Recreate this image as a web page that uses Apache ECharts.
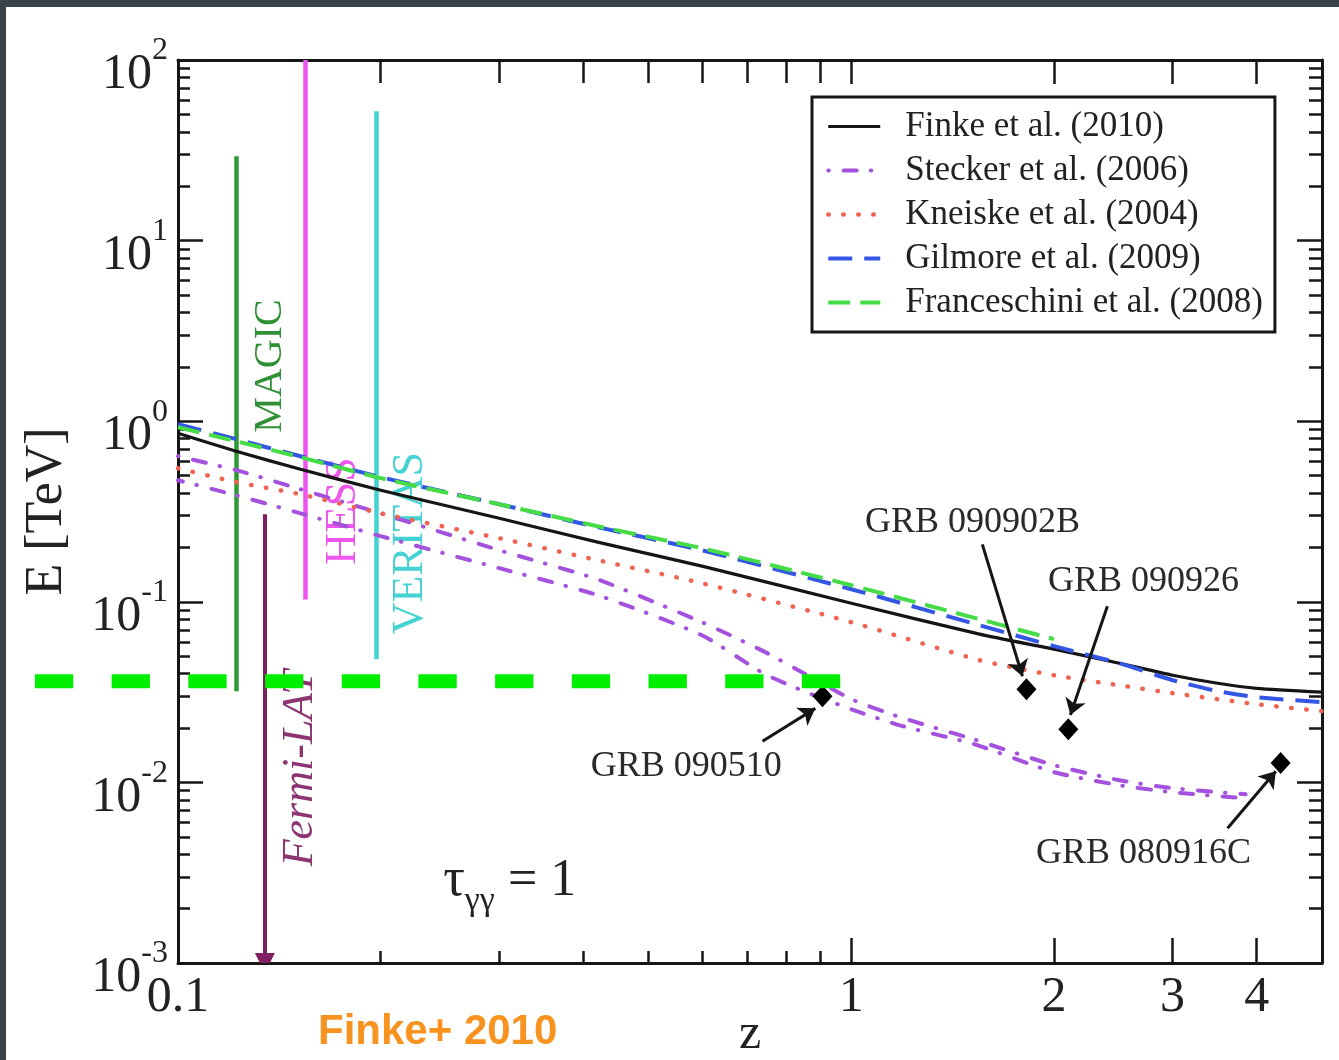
<!DOCTYPE html>
<html>
<head>
<meta charset="utf-8">
<script src="https://cdn.jsdelivr.net/npm/echarts@6/dist/echarts.min.js"></script>
<style>
  html, body { margin: 0; padding: 0; background: #ffffff; }
  #chart { width: 1339px; height: 1060px; }
</style>
</head>
<body>
<div id="chart"></div>
<script>
// ---- gamma-ray horizon: E(z) where tau_gg = 1, for several EBL models ----

// Finke et al. (2010)
const finkeZ = [0.1, 0.122, 0.152, 0.2, 0.3, 0.42, 0.6, 1.0, 1.55, 2.0, 2.5, 3.0, 3.5, 4.0, 5.0];
const finkeE = [0.858, 0.682, 0.542, 0.415, 0.290, 0.214, 0.1575, 0.0982, 0.0662, 0.0546, 0.0457, 0.0392, 0.0354, 0.0332, 0.0316];

// Stecker et al. (2006): baseline and fast-evolution models
const steckerZ = [0.1, 0.122, 0.152, 0.2, 0.3, 0.42, 0.6, 0.74, 0.85, 1.0, 1.18, 1.52, 2.0, 2.5, 3.0, 3.85];
const steckerHiE = [0.640, 0.536, 0.420, 0.309, 0.193, 0.133, 0.0771, 0.0533, 0.0402, 0.0289, 0.0230, 0.0173, 0.01245, 0.01028, 0.00929, 0.0086];
const steckerLoE = [0.471, 0.389, 0.309, 0.231, 0.1535, 0.1088, 0.0653, 0.0402, 0.0320, 0.0254, 0.0207, 0.0163, 0.01139, 0.00965, 0.00882, 0.00818];

// Kneiske et al. (2004)
const kneiskeZ = [0.1, 0.122, 0.152, 0.2, 0.3, 0.42, 0.6, 1.0, 1.55, 2.0, 2.5, 3.0, 4.0, 5.0];
const kneiskeE = [0.549, 0.460, 0.394, 0.309, 0.225, 0.170, 0.1268, 0.0771, 0.0475, 0.0392, 0.0345, 0.0312, 0.0271, 0.0248];

// Gilmore et al. (2009)
const gilmoreZ = [0.1, 0.122, 0.152, 0.2, 0.3, 0.42, 0.6, 1.0, 1.55, 2.0, 2.5, 3.0, 3.5, 4.0, 5.0];
const gilmoreE = [0.962, 0.795, 0.640, 0.490, 0.347, 0.259, 0.193, 0.1174, 0.0742, 0.0568, 0.0457, 0.0368, 0.0320, 0.0296, 0.0278];

// Franceschini et al. (2008)
const franceschiniZ = [0.1, 0.122, 0.152, 0.2, 0.3, 0.42, 0.6, 1.0, 1.55, 2.0];
const franceschiniE = [0.926, 0.775, 0.632, 0.484, 0.347, 0.262, 0.198, 0.1235, 0.0801, 0.0621];

// Observed gamma-ray bursts (highest-energy photon)
const grbNames = ['GRB 090510', 'GRB 090902B', 'GRB 090926', 'GRB 080916C'];
const grbZ = [0.906, 1.82, 2.10, 4.34];
const grbE = [0.030, 0.0328, 0.0197, 0.0128];
const grbLabelZ = [0.5686, 1.513, 2.716, 2.716];
const grbLabelE = [0.0123, 0.276, 0.130, 0.00405];
const grbArrowTailZ = [0.738, 1.565, 2.40, 3.62];
const grbArrowTailE = [0.0169, 0.208, 0.0946, 0.00558];
const grbArrowTipZ = [0.884, 1.795, 2.115, 4.27];
const grbArrowTipE = [0.0257, 0.0387, 0.0236, 0.01153];

// Instrument energy ranges at their source redshifts
const instNames = ['MAGIC', 'HESS', 'VERITAS', 'Fermi-LAT'];
const instZ = [0.122, 0.1545, 0.197, 0.1346];
const instEmin = [0.032, 0.103, 0.048, 0.001];
const instEmax = [29.3, 100, 52, 0.305];
const instColors = ['#2f9a35', '#ee55ee', '#45d2d2', '#7d1f60'];
const instLabelZ = [0.137, 0.1758, 0.2212, 0.1518];
const instLabelE = [2.02, 0.318, 0.211, 0.0120];
const instLabelColors = ['#2f8f35', '#ee55ee', '#45d2d2', '#8c3472'];
const instLabelFonts = ['40px "Liberation Serif"', '44px "Liberation Serif"', '44px "Liberation Serif"', 'italic 44px "Liberation Serif"'];

// Highlighted energy level
const markerE = 0.03634;
const markerZ = [0.06131, 0.9664];

// Axis ticks
const xTickLabels = [0.1, 1, 2, 3, 4];
const xMajorTicks = [1, 2, 3, 4];
const xMinorTicks = [0.2, 0.3, 0.4, 0.5, 0.6, 0.7, 0.8, 0.9];
const yMajorTicks = [0.001, 0.01, 0.1, 1, 10, 100];
const yMinorTicks = [];
for (let k = -3; k < 2; k++) {
  for (let m = 2; m <= 9; m++) yMinorTicks.push(+(m * Math.pow(10, k)).toPrecision(3));
}

const serif = '"Liberation Serif", "DejaVu Serif", serif';
const ink = '#161616';

const chart = echarts.init(document.getElementById('chart'), null, { renderer: 'canvas' });

function pairs(zs, es) { return zs.map((z, i) => [z, es[i]]); }

function curve(name, zs, es, color, width, dash, cap, dashOffset) {
  return {
    type: 'line', name: name, data: pairs(zs, es),
    xAxisIndex: 0, yAxisIndex: 0,
    symbol: 'none', smooth: 0.2,
    lineStyle: { color: color, width: width, type: dash, cap: cap || 'butt', join: 'round', dashOffset: dashOffset || 0 },
    itemStyle: { color: color },
    z: 3, silent: true
  };
}

function xAxisDef(position, ticks, len, main) {
  return {
    type: 'log', logBase: 10, min: 0.1, max: 5, gridIndex: 0, position: position,
    axisLine: { show: main, onZero: false, lineStyle: { color: ink, width: 3 } },
    axisTick: { show: true, inside: true, length: len, customValues: ticks, lineStyle: { color: ink, width: 2.5 } },
    axisLabel: (main && position === 'bottom') ? {
      show: true, customValues: xTickLabels, margin: 10,
      formatter: v => String(v), fontFamily: serif, fontSize: 50, color: '#222'
    } : { show: false },
    splitLine: { show: false }, minorTick: { show: false },
    name: (main && position === 'bottom') ? 'z' : '',
    nameLocation: 'middle', nameGap: 47, nameMoveOverlap: false,
    nameTextStyle: { fontFamily: serif, fontSize: 50, color: '#222' }
  };
}

function yAxisDef(position, ticks, len, main) {
  return {
    type: 'log', logBase: 10, min: 0.001, max: 100, gridIndex: 0, position: position,
    axisLine: { show: main, onZero: false, lineStyle: { color: ink, width: 3 } },
    axisTick: { show: true, inside: true, length: len, customValues: ticks, lineStyle: { color: ink, width: 2.5 } },
    axisLabel: (main && position === 'left') ? {
      show: true, customValues: yMajorTicks, margin: 10,
      formatter: v => '{b|10}{s|' + Math.round(Math.log10(v)) + '}',
      rich: {
        b: { fontFamily: serif, fontSize: 50, lineHeight: 50, color: '#222', padding: [30, 0, 0, 0] },
        s: { fontFamily: serif, fontSize: 32, lineHeight: 32, color: '#222', padding: [0, 0, 18, 0] }
      }
    } : { show: false },
    splitLine: { show: false }, minorTick: { show: false },
    name: (main && position === 'left') ? 'E [TeV]' : '',
    nameLocation: 'middle', nameGap: 105, nameMoveOverlap: false,
    nameTextStyle: { fontFamily: serif, fontSize: 52, color: '#222' }
  };
}

const option = {
  animation: false,
  backgroundColor: '#ffffff',
  title: {
    text: 'Finke+ 2010', left: 313, top: 1006,
    textStyle: { color: '#f7931e', fontSize: 42, fontWeight: 'bold', fontFamily: '"Liberation Sans", Arial, sans-serif' }
  },
  grid: { left: 178, top: 60, width: 1144, height: 903, containLabel: false, outerBoundsMode: 'none' },
  legend: {
    orient: 'vertical', left: 812, top: 97,
    backgroundColor: '#ffffff', borderColor: ink, borderWidth: 3,
    padding: [12, 12, 12, 14],
    itemWidth: 52, itemHeight: 14, itemGap: 9,
    itemStyle: { opacity: 0 },
    lineStyle: { width: 'inherit', type: 'inherit', cap: 'inherit', dashOffset: 'inherit' },
    textStyle: { fontFamily: serif, fontSize: 35, lineHeight: 35, color: '#222', padding: [0, 0, 0, 20] },
    data: ['Finke et al. (2010)', 'Stecker et al. (2006)', 'Kneiske et al. (2004)', 'Gilmore et al. (2009)', 'Franceschini et al. (2008)'],
    selectedMode: false
  },
  xAxis: [
    xAxisDef('bottom', xMajorTicks, 25, true),
    xAxisDef('bottom', xMinorTicks, 12, false),
    xAxisDef('top', xMajorTicks, 24, true),
    xAxisDef('top', xMinorTicks, 23, false)
  ],
  yAxis: [
    yAxisDef('left', yMajorTicks, 25, true),
    yAxisDef('left', yMinorTicks, 12, false),
    yAxisDef('right', yMajorTicks, 25, true),
    yAxisDef('right', yMinorTicks, 13, false)
  ],
  series: [
    // instrument ranges
    {
      type: 'lines', coordinateSystem: 'cartesian2d', xAxisIndex: 0, yAxisIndex: 0,
      symbol: ['none', 'none'], silent: true, z: 2,
      data: instNames.slice(0, 3).map((n, i) => ({
        coords: [[instZ[i], instEmin[i]], [instZ[i], instEmax[i]]],
        lineStyle: { color: instColors[i], width: 4.5, opacity: 1 }
      }))
    },
    {
      type: 'lines', coordinateSystem: 'cartesian2d', xAxisIndex: 0, yAxisIndex: 0,
      symbol: ['none', 'triangle'], symbolSize: [0, 20], silent: true, z: 2,
      data: [{
        coords: [[instZ[3], instEmax[3]], [instZ[3], instEmin[3]]],
        lineStyle: { color: instColors[3], width: 4, opacity: 1 }
      }]
    },
    {
      type: 'custom', coordinateSystem: 'cartesian2d', xAxisIndex: 0, yAxisIndex: 0, silent: true, z: 2,
      data: pairs(instLabelZ, instLabelE),
      renderItem: function (params, api) {
        const i = params.dataIndex;
        const p = api.coord([api.value(0), api.value(1)]);
        return {
          type: 'text', x: p[0], y: p[1], rotation: Math.PI / 2,
          style: { text: instNames[i], fill: instLabelColors[i], font: instLabelFonts[i], align: 'center', verticalAlign: 'middle' }
        };
      }
    },
    // EBL model curves
    curve('Finke et al. (2010)', finkeZ, finkeE, '#151515', 3.2, 'solid'),
    curve('Stecker et al. (2006)', steckerZ, steckerHiE, '#a452de', 4, [13, 14, 0.5, 15], 'round', 27),
    curve('Stecker et al. (2006)', steckerZ, steckerLoE, '#a452de', 4, [13, 14, 0.5, 15], 'round', 8),
    curve('Kneiske et al. (2004)', kneiskeZ, kneiskeE, '#ee6450', 4.5, [0.5, 14.5], 'round'),
    curve('Gilmore et al. (2009)', gilmoreZ, gilmoreE, '#3456e4', 4, [24, 12]),
    curve('Franceschini et al. (2008)', franceschiniZ, franceschiniE, '#45dc45', 4, [22, 10]),
    // GRB arrows, markers and names
    {
      type: 'lines', coordinateSystem: 'cartesian2d', xAxisIndex: 0, yAxisIndex: 0,
      symbol: ['none', 'arrow'], symbolSize: [0, 16], silent: true, z: 4,
      lineStyle: { color: '#151515', width: 3, opacity: 1 },
      data: grbNames.map((n, i) => ({ coords: [[grbArrowTailZ[i], grbArrowTailE[i]], [grbArrowTipZ[i], grbArrowTipE[i]]] }))
    },
    {
      type: 'scatter', xAxisIndex: 0, yAxisIndex: 0, silent: true, z: 5,
      symbol: 'diamond', symbolSize: [20, 22],
      itemStyle: { color: '#000000', opacity: 1 },
      data: pairs(grbZ, grbE)
    },
    {
      type: 'custom', coordinateSystem: 'cartesian2d', xAxisIndex: 0, yAxisIndex: 0, silent: true, z: 5,
      data: pairs(grbLabelZ, grbLabelE),
      renderItem: function (params, api) {
        const i = params.dataIndex;
        const p = api.coord([api.value(0), api.value(1)]);
        return {
          type: 'text', x: p[0], y: p[1],
          style: { text: grbNames[i], fill: '#2a2a2a', font: '36px "Liberation Serif"', align: 'center', verticalAlign: 'middle' }
        };
      }
    },
    // optical-depth annotation
    {
      type: 'custom', coordinateSystem: 'cartesian2d', xAxisIndex: 0, yAxisIndex: 0, silent: true, z: 5,
      data: [[0.2476, 0.00284]],
      renderItem: function (params, api) {
        const p = api.coord([api.value(0), api.value(1)]);
        return {
          type: 'text', x: p[0], y: p[1],
          style: {
            text: '{t|τ}{g|γγ}{r| = 1}', align: 'left', verticalAlign: 'middle',
            rich: {
              t: { fontFamily: serif, fontSize: 54, lineHeight: 54, fill: '#222' },
              g: { fontFamily: serif, fontSize: 34, lineHeight: 34, fill: '#222', padding: [40, 0, 0, 0] },
              r: { fontFamily: serif, fontSize: 52, lineHeight: 52, fill: '#222' }
            }
          }
        };
      }
    },
    // highlighted energy level
    {
      type: 'custom', coordinateSystem: 'cartesian2d', xAxisIndex: 0, yAxisIndex: 0, silent: true, z: 6,
      data: [[markerZ[0], markerE, markerZ[1]]],
      renderItem: function (params, api) {
        const a = api.coord([api.value(0), api.value(1)]);
        const b = api.coord([api.value(2), api.value(1)]);
        return {
          type: 'line',
          shape: { x1: a[0], y1: a[1], x2: b[0], y2: b[1] },
          style: { stroke: '#00ee00', lineWidth: 14, lineDash: [38.3, 38.4], lineCap: 'butt' }
        };
      }
    }
  ],
  graphic: [
    { type: 'rect', shape: { x: 0, y: 0, width: 1339, height: 7 }, style: { fill: '#3b434a' }, z: 100 },
    { type: 'rect', shape: { x: 0, y: 0, width: 6, height: 1060 }, style: { fill: '#3b434a' }, z: 100 }
  ]
};

chart.setOption(option);
</script>
</body>
</html>
